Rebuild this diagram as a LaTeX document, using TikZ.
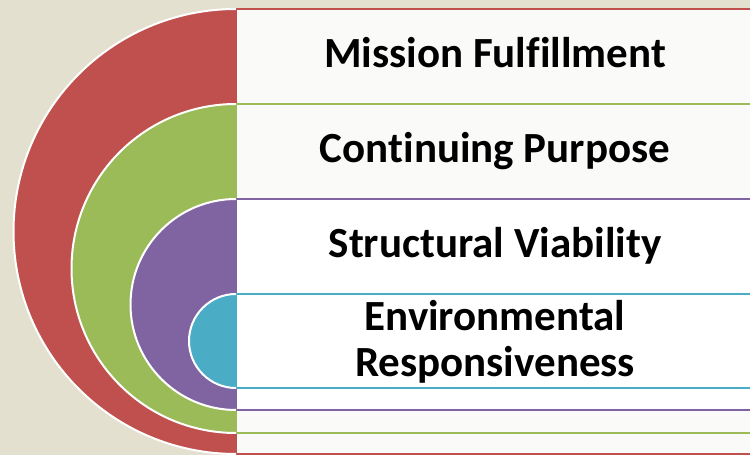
\documentclass[tikz,border=0pt]{standalone}
\usepackage{fontspec}
\setmainfont[Ligatures=NoCommon]{Carlito}
\definecolor{mfred}{HTML}{C0504D}
\definecolor{cpgreen}{HTML}{9BBB59}
\definecolor{svpurple}{HTML}{8064A2}
\definecolor{ercyan}{HTML}{4BACC6}
\definecolor{tan}{HTML}{E3E0CF}
\definecolor{paper}{HTML}{FAFAF9}
\begin{document}
\begin{tikzpicture}[x=1pt,y=1pt,
  band/.style={line width=2.5pt},
  rim/.style={draw=white,line width=2pt},
  lbl/.style={font=\fontsize{43}{46}\selectfont\bfseries,align=center}]
\useasboundingbox (0,0) rectangle (750,455);
\clip (0,0) rectangle (750,455);
\fill[tan] (0,0) rectangle (750,455);
% one layer = panel + half disc, outer first
\foreach \c/\pf/\lo/\hi in {mfred/paper/1/446, cpgreen/paper/22/351, svpurple/white/45/256, ercyan/white/67/161}{
  \pgfmathsetmacro\r{(\hi-\lo)/2}
  \draw[band,draw=\c,fill=\pf] (236,\lo) rectangle (780,\hi);
  \fill[\c] (236,\hi) arc[start angle=90,end angle=270,radius=\r] -- cycle;
  \draw[rim] (236,\hi) arc[start angle=90,end angle=270,radius=\r];
}
\node[lbl,anchor=base] (mf) at (495,387) {Mission Fulfillment};
\node[lbl,anchor=base] (cp) at (495,292) {Continuing Purpose};
\node[lbl,anchor=base] (sv) at (495,197) {Structural Viability};
\node[lbl] (er) at (495,113) {Environmental\\Responsiveness};
\end{tikzpicture}
\end{document}
